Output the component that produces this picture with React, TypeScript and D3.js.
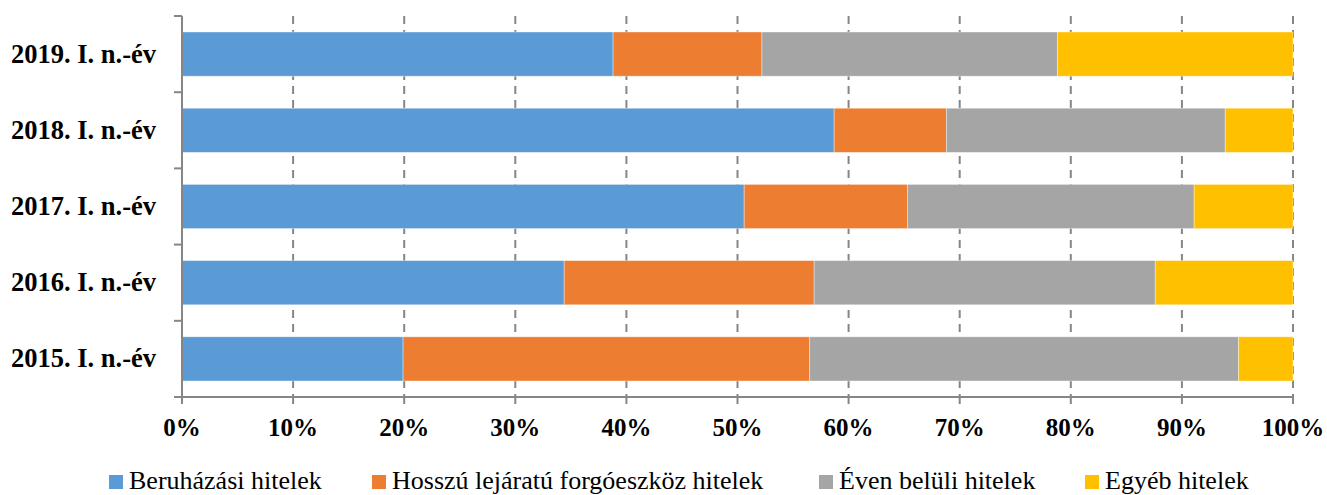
import React from "react";
import * as d3 from "d3";

const categories = ["2019. I. n.-év", "2018. I. n.-év", "2017. I. n.-év", "2016. I. n.-év", "2015. I. n.-év"];
const seriesNames = ["Beruházási hitelek", "Hosszú lejáratú forgóeszköz hitelek", "Éven belüli hitelek", "Egyéb hitelek"];
const beruhazasi = [38.8, 58.7, 50.6, 34.4, 19.9];
const hosszu = [13.4, 10.1, 14.7, 22.5, 36.6];
const evenBeluli = [26.6, 25.1, 25.8, 30.7, 38.6];
const egyeb = [21.2, 6.1, 8.9, 12.4, 4.9];
const colors = ["#5B9BD5", "#ED7D31", "#A5A5A5", "#FFC000"];
const xTicks = [0, 10, 20, 30, 40, 50, 60, 70, 80, 90, 100];

const W = 1327;
const H = 495;
const left = 182;
const right = 1293;
const top = 16;
const bottom = 397;
const font = "'Liberation Serif', 'Times New Roman', serif";

export default function App() {
  const series = [beruhazasi, hosszu, evenBeluli, egyeb];
  const x = d3.scaleLinear().domain([0, 100]).range([left, right]);
  const y = d3.scaleBand().domain(categories).range([top, bottom]).paddingInner(0.42).paddingOuter(0.21);
  const band = d3.scaleBand().domain(categories).range([top, bottom]);
  const rows = categories.map((c, i) => {
    const vals = series.map((s) => s[i]);
    const total = d3.sum(vals);
    let acc = 0;
    return vals.map((v, k) => {
      const x0 = (acc / total) * 100;
      acc += v;
      const x1 = (acc / total) * 100;
      return { c, k, x0, x1 };
    });
  });
  const legendX = [109, 372, 819, 1085];
  const axisColor = "#868686";
  return (
    <svg width={W} height={H} style={{ position: "absolute", left: 0, top: 0, background: "#fff" }}>
      {xTicks.slice(1).map((t) => (
        <line key={"g" + t} x1={x(t)} x2={x(t)} y1={top} y2={bottom} stroke={axisColor} strokeWidth={2} strokeDasharray="8,6" />
      ))}
      {rows.map((segs) =>
        segs.map((s) => (
          <rect
            key={s.c + s.k}
            x={x(s.x0)}
            width={x(s.x1) - x(s.x0)}
            y={y(s.c)!}
            height={y.bandwidth()}
            fill={colors[s.k]}
            stroke="#fff"
            strokeOpacity={0.5}
            strokeWidth={0.75}
          />
        ))
      )}
      <line x1={left} x2={left} y1={top} y2={bottom} stroke={axisColor} strokeWidth={2} />
      <line x1={left} x2={right} y1={bottom} y2={bottom} stroke={axisColor} strokeWidth={2} />
      {[...categories.map((c) => band(c)!), bottom].map((yy, i) => (
        <line key={"yt" + i} x1={left - 8} x2={left} y1={yy} y2={yy} stroke={axisColor} strokeWidth={2} />
      ))}
      {xTicks.map((t) => (
        <line key={"xt" + t} x1={x(t)} x2={x(t)} y1={bottom} y2={bottom + 7} stroke={axisColor} strokeWidth={2} />
      ))}
      {xTicks.map((t) => (
        <text key={"xl" + t} x={x(t)} y={436} textAnchor="middle" fontFamily={font} fontWeight="bold" fontSize={25} fill="#000">
          {t + "%"}
        </text>
      ))}
      {categories.map((c) => (
        <text key={"yl" + c} x={156} y={y(c)! + y.bandwidth() / 2 + 8.5} textAnchor="end" fontFamily={font} fontWeight="bold" fontSize={26.5} fill="#000">
          {c}
        </text>
      ))}
      {seriesNames.map((n, i) => (
        <g key={"lg" + i}>
          <rect x={legendX[i]} y={475} width={14} height={14} fill={colors[i]} />
          <text x={legendX[i] + 20} y={489} fontFamily={font} fontSize={26} fill="#000">
            {n}
          </text>
        </g>
      ))}
    </svg>
  );
}
